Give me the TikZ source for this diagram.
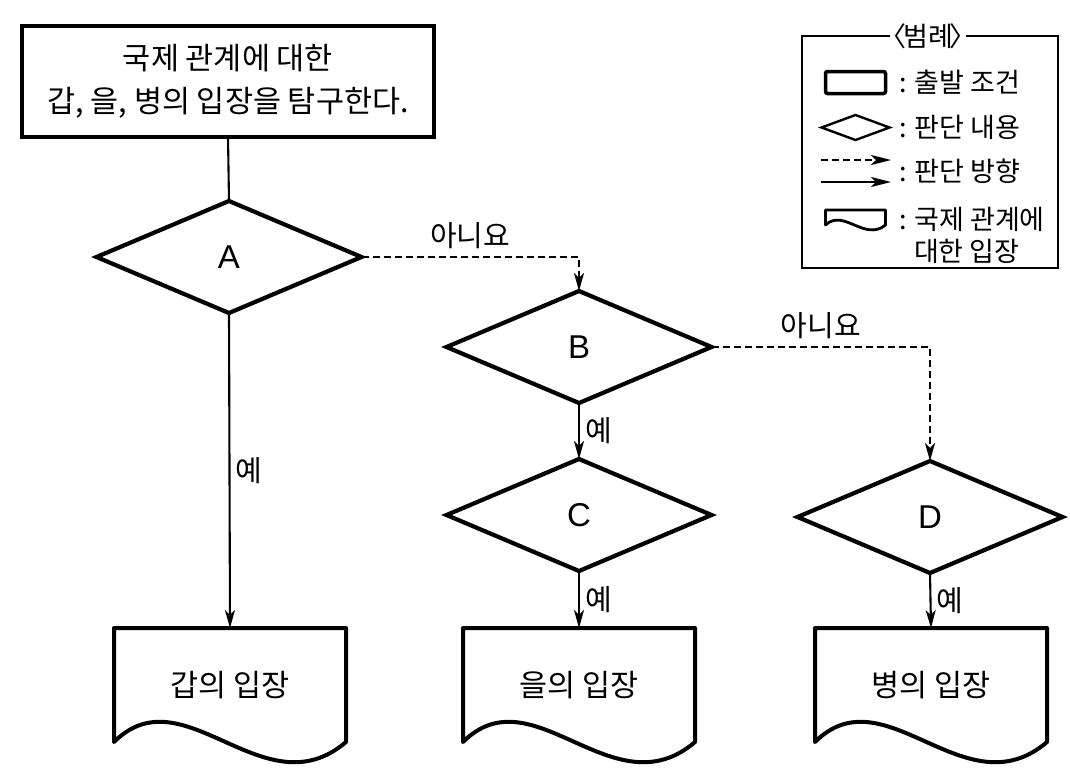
\documentclass[tikz,border=0pt]{standalone}
\usepackage{fontspec}
\setmainfont{Noto Sans CJK KR}
\newfontfamily\latinf{Liberation Sans}
\usetikzlibrary{shapes.geometric,arrows.meta}
\begin{document}
\begin{tikzpicture}[x=1pt,y=-1pt,
  every node/.style={inner sep=0pt, outer sep=0pt},
  mainfont/.style={font=\fontsize{30.5pt}{43pt}\selectfont},
  startbox/.style={draw, line width=4.5pt, minimum width=412pt, minimum height=111pt, align=center, mainfont},
  decision/.style={draw, diamond, line width=4.2pt, minimum width=265pt, minimum height=112pt, font=\latinf\fontsize{33pt}{35pt}\selectfont},
  docbox/.style={minimum width=232pt, minimum height=114pt, mainfont},
  docline/.style={line width=4pt, line join=round},
  plainline/.style={line width=2.1pt},
  conn/.style={line width=2.1pt, -{Stealth[length=18pt,width=10pt,inset=5pt]}},
  dconn/.style={conn, line width=2.2pt, dash pattern=on 7pt off 4pt},
  lbl/.style={font=\fontsize{29pt}{30pt}\selectfont},
  legtext/.style={font=\fontsize{27pt}{30pt}\selectfont, anchor=west}
]
\useasboundingbox (0,0) rectangle (1070,772);

% start box
\node[startbox] (top) at (228,81.5) {국제 관계에 대한\\갑, 을, 병의 입장을 탐구한다.};

% decisions
\node[decision] (A) at (229,257) {A};
\node[decision] (B) at (579,347) {B};
\node[decision] (C) at (579,515) {C};
\node[decision] (D) at (930,517) {D};

% documents
\node[docbox] (ga) at (230,685) {갑의 입장};
\node[docbox] (eul) at (579,685) {을의 입장};
\node[docbox] (byeong) at (931,685) {병의 입장};
\foreach \n in {ga,eul,byeong}{
  \draw[docline] (\n.south west) .. controls +(70pt,70pt) and +(-82pt,-70pt) .. (\n.south east)
     -- (\n.north east) -- (\n.north west) -- cycle;
}

% connectors
\draw[plainline] (top.south) -- (A.north);
\draw[conn] (A.south) -- node[lbl, midway, right=6pt] {예} (ga.north);
\draw[dconn] (A.east) -- node[lbl, midway, above=8pt] {아니요} (A.east -| B.north) -- (B.north);
\draw[conn] (B.south) -- node[lbl, midway, right=6pt] {예} (C.north);
\draw[conn] (C.south) -- node[lbl, midway, right=6pt] {예} (eul.north);
\draw[dconn] (B.east) -- node[lbl, midway, above=8pt] {아니요} (B.east -| D.north) -- (D.north);
\draw[conn] (D.south) -- node[lbl, midway, right=6pt] {예} (byeong.north);

% legend
\node[draw, line width=1.8pt, minimum width=256pt, minimum height=232pt] (legend) at (930,152) {};
\node[fill=white, inner xsep=1pt, font=\fontsize{27pt}{28pt}\selectfont] (legtitle) at (928,36) {\kern-0.42em〈\kern-0.12em 범례\kern-0.12em〉\kern-0.42em};
\node[draw, line width=3.5pt, rounded corners=2pt, minimum width=60pt, minimum height=22pt] (lrect) at (855.5,82.5) {};
\node[draw, diamond, line width=2.4pt, minimum width=68pt, minimum height=25pt] (ldia) at (855.5,127.5) {};
\coordinate (lda1) at (821,160);
\coordinate (lda2) at (891,160);
\draw[conn, line width=2pt, dash pattern=on 7pt off 4pt, -{Stealth[length=20pt,width=10pt,inset=5pt]}] (lda1) -- (lda2);
\coordinate (lsa1) at (821,182);
\coordinate (lsa2) at (891,182);
\draw[conn, line width=2pt, -{Stealth[length=20pt,width=10pt,inset=5pt]}] (lsa1) -- (lsa2);
\node[minimum width=60pt, minimum height=15pt] (ldoc) at (855.5,217.5) {};
\draw[line width=2.8pt, line join=round] (ldoc.south west) .. controls +(18pt,17pt) and +(-21pt,-17pt) .. (ldoc.south east)
   -- (ldoc.north east) -- (ldoc.north west) -- cycle;

\node[legtext] (lt1) at (899,82) {: 출발 조건};
\node[legtext] (lt2) at (899,127) {: 판단 내용};
\node[legtext] (lt3) at (899,171) {: 판단 방향};
\node[legtext] (lt4) at (899,219) {: 국제 관계에};
\node[legtext] (lt5) at (914,251) {대한 입장};
\end{tikzpicture}
\end{document}
